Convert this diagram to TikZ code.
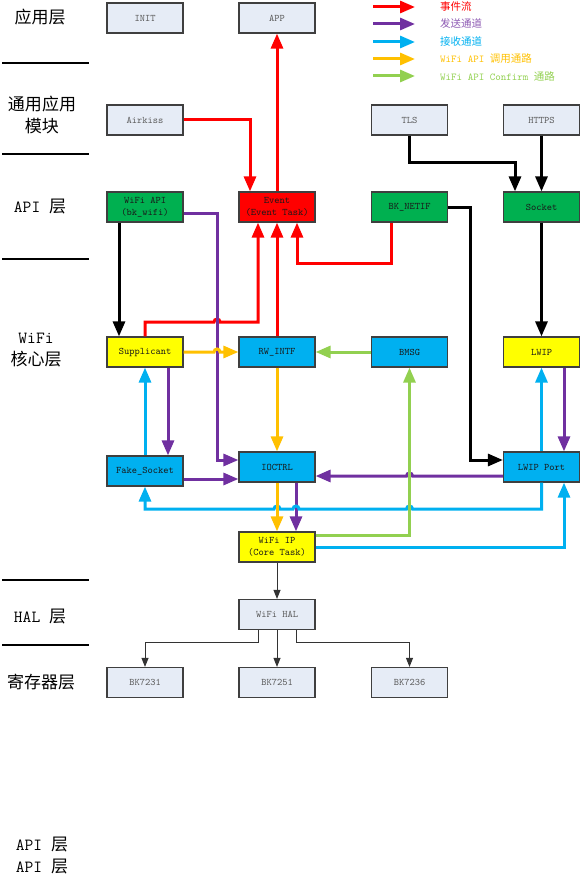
\documentclass[tikz,border=0pt]{standalone}
\usepackage{fontspec}
\newfontfamily\cjk{Noto Sans CJK SC}
\usetikzlibrary{arrows.meta,calc}
\definecolor{evc}{HTML}{FF0000}
\definecolor{sndc}{HTML}{7030A0}
\definecolor{rcvc}{HTML}{00B0F0}
\definecolor{callc}{HTML}{FFC000}
\definecolor{confc}{HTML}{92D050}
\definecolor{boxgreen}{HTML}{00B050}
\definecolor{boxyellow}{HTML}{FFFF00}
\definecolor{boxlight}{HTML}{E6ECF6}
\definecolor{boxline}{HTML}{3F3F3F}
\begin{document}
\begin{tikzpicture}[x=1pt,y=-1pt,
  box/.style={draw=boxline,line width=1.2pt,minimum width=76pt,minimum height=30pt,inner sep=0pt,
    font=\ttfamily\fontsize{10}{12.5}\selectfont,align=center,text=black!90},
  lightbox/.style={box,fill=boxlight,text=black!65},
  greenbox/.style={box,fill=boxgreen},
  redbox/.style={box,fill=evc},
  yellowbox/.style={box,fill=boxyellow},
  cyanbox/.style={box,fill=rcvc},
  flow/.style={line width=3pt,-{Triangle[length=15pt,width=12pt]}},
  ev/.style={flow,draw=evc},
  snd/.style={flow,draw=sndc},
  rcv/.style={flow,draw=rcvc},
  callp/.style={flow,draw=callc},
  conf/.style={flow,draw=confc},
  blk/.style={flow,draw=black},
  thinarr/.style={draw=black!80,line width=1pt,-{Triangle[length=9pt,width=7pt]}},
  layer/.style={font=\fontsize{17}{22}\selectfont,align=center,inner sep=0pt},
  sepline/.style={line width=2pt},
  legtext/.style={anchor=west,font=\fontsize{10.5}{12}\selectfont,inner sep=0pt}
]
\useasboundingbox (0,0) rectangle (580,880);

% layer labels
\node[layer] (lapp) at (40,17) {\cjk 应用层};
\node[layer] (lmod) at (42,115) {\cjk 通用应用\\\cjk 模块};
\node[layer] (lapi) at (40,207) {\ttfamily API {\cjk 层}};
\node[layer] (lwifi) at (36,350) {\ttfamily WiFi\\\cjk 核心层};
\node[layer] (lhal) at (40,617) {\ttfamily HAL {\cjk 层}};
\node[layer] (lreg) at (41,682) {\cjk 寄存器层};
\node[layer] (lapi2) at (42,856) {\ttfamily API {\cjk 层}\\\ttfamily API {\cjk 层}};

% separators
\draw[sepline] (2,63) -- (89,63);
\draw[sepline] (2,154) -- (89,154);
\draw[sepline] (2,259) -- (89,259);
\draw[sepline] (2,580) -- (89,580);
\draw[sepline] (2,645) -- (89,645);

% boxes
\node[lightbox] (INIT) at (145,18) {INIT};
\node[lightbox] (APP) at (277,18) {APP};
\node[lightbox] (Airkiss) at (145,120) {Airkiss};
\node[lightbox] (TLS) at (409.5,120) {TLS};
\node[lightbox] (HTTPS) at (541.5,120) {HTTPS};
\node[greenbox] (WiFiAPI) at (145,207) {WiFi API\\(bk\_wifi)};
\node[redbox] (Event) at (277,207) {Event\\(Event Task)};
\node[greenbox] (BKNETIF) at (409.5,207) {BK\_NETIF};
\node[greenbox] (Socket) at (541.5,207) {Socket};
\node[yellowbox] (Supplicant) at (145,352) {Supplicant};
\node[cyanbox] (RWINTF) at (277,352) {RW\_INTF};
\node[cyanbox] (BMSG) at (409.5,352) {BMSG};
\node[yellowbox] (LWIP) at (541.5,352) {LWIP};
\node[cyanbox] (FakeSocket) at (145,471) {Fake\_Socket};
\node[cyanbox] (IOCTRL) at (277,467) {IOCTRL};
\node[cyanbox] (LWIPPort) at (541.5,467) {LWIP Port};
\node[yellowbox] (WiFiIP) at (277,547) {WiFi IP\\(Core Task)};
\node[lightbox] (WiFiHAL) at (277,614.5) {WiFi HAL};
\node[lightbox] (BK7231) at (145,682.5) {BK7231};
\node[lightbox] (BK7251) at (277,682.5) {BK7251};
\node[lightbox] (BK7236) at (409.5,682.5) {BK7236};

% legend
\coordinate (la1) at (373,7);  \coordinate (lb1) at (415,7);
\coordinate (la2) at (373,24); \coordinate (lb2) at (415,24);
\coordinate (la3) at (373,42); \coordinate (lb3) at (415,42);
\coordinate (la4) at (373,59); \coordinate (lb4) at (415,59);
\coordinate (la5) at (373,76); \coordinate (lb5) at (415,76);
\draw[ev] (la1) -- (lb1);
\draw[snd] (la2) -- (lb2);
\draw[rcv] (la3) -- (lb3);
\draw[callp] (la4) -- (lb4);
\draw[conf] (la5) -- (lb5);
\node[legtext,text=evc] (t1) at (440,7) {\cjk 事件流};
\node[legtext,text=sndc!80] (t2) at (440,24) {\cjk 发送通道};
\node[legtext,text=rcvc] (t3) at (440,42) {\cjk 接收通道};
\node[legtext,text=callc] (t4) at (440,59) {\ttfamily WiFi API {\cjk 调用通路}};
\node[legtext,text=confc] (t5) at (440,76) {\ttfamily WiFi API Confirm {\cjk 通路}};

% event flow (red)
\draw[ev] (Event.north) -- (APP.south);
\draw[ev] (Airkiss.east) -- (250,120) -- ([xshift=-27pt]Event.north);
\draw[ev] (Supplicant.north) -- (145,322) -- (214,322) arc[start angle=180,end angle=0,radius=3pt] -- (258,322) -- ([xshift=-19pt]Event.south);
\draw[ev] (RWINTF.north) -- (Event.south);
\draw[ev] ([xshift=-18.5pt]BKNETIF.south) -- (391,263) -- (297,263) -- ([xshift=20pt]Event.south);

% black
\draw[blk] ([xshift=-26pt]WiFiAPI.south) -- ([xshift=-26pt]Supplicant.north);
\draw[blk] (TLS.south) -- (409.5,162) -- (515,162) -- ([xshift=-26.5pt]Socket.north);
\draw[blk] (HTTPS.south) -- (Socket.north);
\draw[blk] (BKNETIF.east) -- (470,207) -- (470,460) -- (LWIPPort.west |- 0,460);
\draw[blk] (Socket.south) -- (LWIP.north);

% send (purple)
\draw[snd] ([yshift=-6pt]WiFiAPI.east) -- (217,213) -- (217,460) -- (IOCTRL.west |- 0,460);
\draw[snd] ([xshift=23pt]Supplicant.south) -- ([xshift=23pt]FakeSocket.north);
\draw[snd] ([yshift=-8pt]FakeSocket.east) -- (IOCTRL.west |- 0,479);
\draw[snd] (LWIPPort.west |- 0,476) -- (412.5,476) arc[start angle=0,end angle=180,radius=3pt] -- (IOCTRL.east |- 0,476);
\draw[snd] ([xshift=19pt]IOCTRL.south) -- ([xshift=19pt]WiFiIP.north);
\draw[snd] ([xshift=22.5pt]LWIP.south) -- ([xshift=22.5pt]LWIPPort.north);

% receive (cyan)
\draw[rcv] (FakeSocket.north) -- (Supplicant.south);
\draw[rcv] (LWIPPort.south) -- (541.5,509) -- (412.5,509) arc[start angle=0,end angle=180,radius=3pt]
  -- (299,509) arc[start angle=0,end angle=180,radius=3pt]
  -- (280,509) arc[start angle=0,end angle=180,radius=3pt]
  -- (145,509) -- (FakeSocket.south);
\draw[rcv] (WiFiIP.east) -- (564,547) -- ([xshift=22.5pt]LWIPPort.south);
\draw[rcv] (LWIPPort.north) -- (LWIP.south);

% call (orange)
\draw[callp] (Supplicant.east) -- (214,352) arc[start angle=180,end angle=0,radius=3pt] -- (RWINTF.west);
\draw[callp] (RWINTF.south) -- (IOCTRL.north);
\draw[callp] (IOCTRL.south) -- (WiFiIP.north);

% confirm (green)
\draw[conf] (BMSG.west) -- (RWINTF.east);
\draw[conf] ([yshift=11.5pt]WiFiIP.east) -- (409.5,535.5) -- (BMSG.south);

% HAL
\draw[thinarr] (WiFiIP.south) -- (WiFiHAL.north);
\draw[thinarr] ([xshift=-19pt]WiFiHAL.south) -- (258,642) -- (145,642) -- (BK7231.north);
\draw[thinarr] (WiFiHAL.south) -- (BK7251.north);
\draw[thinarr] ([xshift=19pt]WiFiHAL.south) -- (296,642) -- (409.5,642) -- (BK7236.north);
\end{tikzpicture}
\end{document}
